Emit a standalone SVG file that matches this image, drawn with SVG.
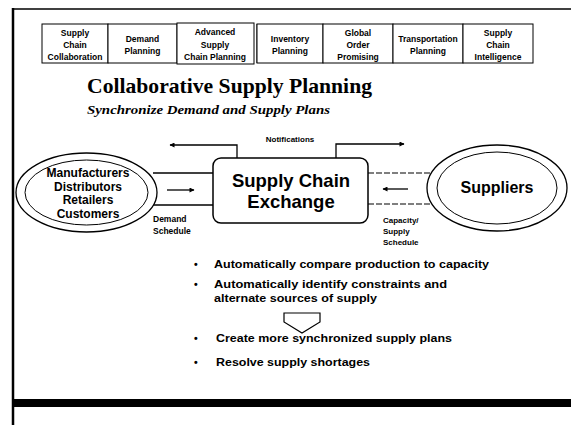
<svg xmlns="http://www.w3.org/2000/svg" width="571" height="425" viewBox="0 0 571 425">
<style>
.tab{fill:#fff;stroke:#000;stroke-width:1}
.tt{font-family:"Liberation Sans",Arial,sans-serif;font-weight:bold;font-size:8.5px;text-anchor:middle;fill:#000}
.sans{font-family:"Liberation Sans",Arial,sans-serif;font-weight:bold;fill:#000}
.ln{fill:none;stroke:#000;stroke-width:1.3}
.dash{fill:none;stroke:#000;stroke-width:1.2;stroke-dasharray:6 2}
.bul{font-family:"Liberation Sans",Arial,sans-serif;font-weight:bold;font-size:10.5px;fill:#000}
</style>
<defs>
<marker id="ah" viewBox="0 0 10 10" refX="9" refY="5" markerWidth="7" markerHeight="5" orient="auto" markerUnits="userSpaceOnUse">
<path d="M0,0 L10,5 L0,10 z" fill="#000"/>
</marker>
</defs>
<rect width="571" height="425" fill="#fff"/>
<g id="frame">
<line x1="13" y1="9" x2="571" y2="9" stroke="#000" stroke-width="1.5"/>
<line x1="13" y1="8" x2="13" y2="425" stroke="#000" stroke-width="2.5"/>
<rect x="13" y="399" width="558" height="8" fill="#000"/>
</g>
<g id="tabs">
<g id="tab1"><rect class="tab" x="42" y="24" width="66" height="39"/>
<text class="tt" x="75" y="36">Supply</text><text class="tt" x="75" y="48">Chain</text><text class="tt" x="75" y="60">Collaboration</text></g>
<g id="tab2"><rect class="tab" x="108" y="24" width="69" height="39"/>
<text class="tt" x="142.5" y="42">Demand</text><text class="tt" x="142.5" y="54">Planning</text></g>
<g id="tab3"><rect class="tab" x="177" y="23" width="77" height="41" stroke-width="1.3"/>
<line x1="257" y1="24" x2="257" y2="63" stroke="#000"/>
<text class="tt" x="215" y="35">Advanced</text><text class="tt" x="215" y="48">Supply</text><text class="tt" x="215" y="60">Chain Planning</text></g>
<g id="tab4"><rect class="tab" x="257" y="24" width="66" height="39"/>
<text class="tt" x="290" y="42">Inventory</text><text class="tt" x="290" y="54">Planning</text></g>
<g id="tab5"><rect class="tab" x="323" y="24" width="70" height="39"/>
<text class="tt" x="358" y="36">Global</text><text class="tt" x="358" y="48">Order</text><text class="tt" x="358" y="60">Promising</text></g>
<g id="tab6"><rect class="tab" x="393" y="24" width="70" height="39"/>
<text class="tt" x="428" y="42">Transportation</text><text class="tt" x="428" y="54">Planning</text></g>
<g id="tab7"><rect class="tab" x="463" y="24" width="70" height="39"/>
<text class="tt" x="498" y="36">Supply</text><text class="tt" x="498" y="48">Chain</text><text class="tt" x="498" y="60">Intelligence</text></g>
</g>
<g id="title">
<text x="87" y="93" font-family="'Liberation Serif','Times New Roman',serif" font-weight="bold" font-size="22" textLength="285" lengthAdjust="spacingAndGlyphs">Collaborative Supply Planning</text>
<text x="87" y="114" font-family="'Liberation Serif','Times New Roman',serif" font-weight="bold" font-style="italic" font-size="13.5" textLength="243" lengthAdjust="spacingAndGlyphs">Synchronize Demand and Supply Plans</text>
</g>
<g id="connectors">
<polyline class="ln" points="237,158 237,145 170,145" marker-end="url(#ah)"/>
<polyline class="ln" points="336,158 336,144 404,144" marker-end="url(#ah)"/>
<line class="ln" x1="153" y1="173" x2="213" y2="173"/>
<line class="ln" x1="153" y1="205" x2="213" y2="205"/>
<line class="ln" x1="167" y1="190" x2="194" y2="190" marker-end="url(#ah)"/>
<line class="dash" x1="368" y1="173" x2="430" y2="173"/>
<line class="dash" x1="368" y1="204" x2="430" y2="204"/>
<line class="ln" x1="408" y1="189" x2="383" y2="189" marker-end="url(#ah)"/>
<text class="sans" x="290" y="142" font-size="8" text-anchor="middle">Notifications</text>
<text class="sans" x="153" y="222" font-size="8.5">Demand</text>
<text class="sans" x="153" y="234" font-size="8.5">Schedule</text>
<text class="sans" x="383" y="223" font-size="8">Capacity/</text>
<text class="sans" x="383" y="234" font-size="8">Supply</text>
<text class="sans" x="383" y="245" font-size="8">Schedule</text>
</g>
<g id="customers">
<ellipse cx="86.5" cy="192.5" rx="70.5" ry="39.5" fill="#fff" stroke="#000" stroke-width="1.3"/>
<ellipse cx="86.5" cy="192.5" rx="61.5" ry="32.5" fill="none" stroke="#000" stroke-width="1"/>
<text class="sans" x="88" y="177" font-size="12" text-anchor="middle" textLength="83" lengthAdjust="spacingAndGlyphs">Manufacturers</text>
<text class="sans" x="88" y="191" font-size="12" text-anchor="middle">Distributors</text>
<text class="sans" x="88" y="204" font-size="12" text-anchor="middle">Retailers</text>
<text class="sans" x="88" y="218" font-size="12" text-anchor="middle">Customers</text>
</g>
<g id="exchange">
<rect x="213" y="158" width="155" height="65" rx="8" fill="#fff" stroke="#000" stroke-width="1.5"/>
<text class="sans" x="291" y="187" font-size="18.5" text-anchor="middle">Supply Chain</text>
<text class="sans" x="291" y="208" font-size="18.5" text-anchor="middle">Exchange</text>
</g>
<g id="suppliers">
<ellipse cx="497" cy="188" rx="70" ry="43" fill="#fff" stroke="#000" stroke-width="1.3"/>
<ellipse cx="497" cy="188" rx="60" ry="36" fill="none" stroke="#000" stroke-width="1"/>
<text class="sans" x="497" y="193" font-size="16" text-anchor="middle">Suppliers</text>
</g>
<g id="bullets">
<text class="bul" x="194" y="268">•</text>
<text class="bul" x="214" y="268" textLength="275" lengthAdjust="spacingAndGlyphs">Automatically compare production to capacity</text>
<text class="bul" x="194" y="288">•</text>
<text class="bul" x="214" y="288" textLength="233" lengthAdjust="spacingAndGlyphs">Automatically identify constraints and</text>
<text class="bul" x="214" y="302" textLength="163" lengthAdjust="spacingAndGlyphs">alternate sources of supply</text>
<polygon points="284,313 320,313 320,322 302,333 284,322" fill="#fff" stroke="#000" stroke-width="1.2"/>
<text class="bul" x="194" y="342">•</text>
<text class="bul" x="216" y="342" textLength="236" lengthAdjust="spacingAndGlyphs">Create more synchronized supply plans</text>
<text class="bul" x="194" y="366">•</text>
<text class="bul" x="216" y="366" textLength="154" lengthAdjust="spacingAndGlyphs">Resolve supply shortages</text>
</g>
</svg>
